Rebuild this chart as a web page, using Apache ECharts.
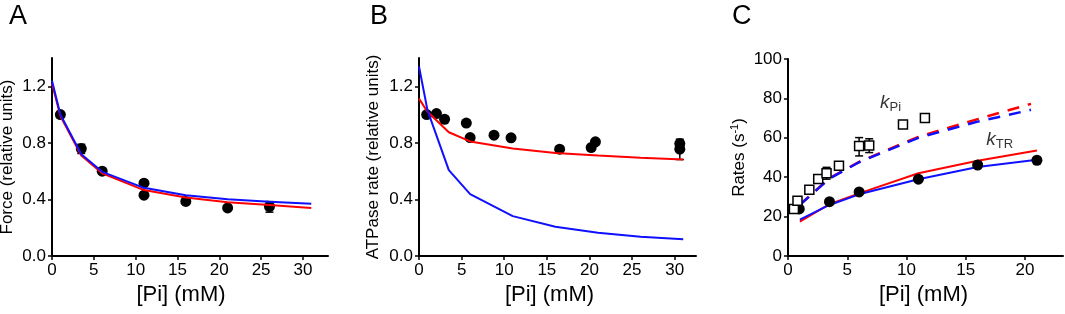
<!DOCTYPE html>
<html>
<head>
<meta charset="utf-8">
<script src="https://cdn.jsdelivr.net/npm/echarts@6/dist/echarts.min.js"></script>
<style>
  html, body { margin: 0; padding: 0; background: #fff; }
  #main { width: 1065px; height: 314px; }
</style>
</head>
<body>
<div id="main"></div>
<script>
// ---- data ----
// A: force
var forcePi = [1, 3.5, 6, 11, 11, 16, 21, 26];
var forceVal = [1.0, 0.76, 0.60, 0.515, 0.43, 0.386, 0.34, 0.35];
var forceErr = [[3.5, 0.725, 0.79], [26, 0.31, 0.385]];
var modelPi = [0, 1, 3.5, 6, 11, 16, 21, 26, 31];
var forceRed = [1.22, 0.99, 0.71, 0.585, 0.466, 0.414, 0.38, 0.36, 0.34];
var forceBlue = [1.24, 1.0, 0.72, 0.595, 0.482, 0.43, 0.402, 0.383, 0.369];

// B: ATPase
var atpPi = [0.9, 2.05, 3.0, 5.55, 6.0, 8.8, 10.8, 16.5, 20.2, 20.7, 30.6, 30.6];
var atpVal = [1.0, 1.007, 0.967, 0.94, 0.837, 0.854, 0.836, 0.755, 0.767, 0.807, 0.795, 0.755];
var atpErr = [[30.6, 0.682, 0.826]];
var atpRed = [1.113, 1.02, 0.875, 0.81, 0.76, 0.728, 0.71, 0.695, 0.682];
var atpBlue = [1.34, 1.03, 0.607, 0.437, 0.282, 0.207, 0.165, 0.136, 0.118];

// C: rates
var ktrPi = [0.95, 3.5, 6, 11, 16, 21];
var ktrVal = [23.9, 27.6, 32.5, 39.0, 46.2, 48.6];
var kpiPi = [0.5, 0.8, 1.8, 2.55, 3.25, 4.3, 6.0, 6.85, 9.7, 11.55];
var kpiVal = [23.9, 28.0, 33.6, 39.1, 42.0, 45.8, 55.9, 56.1, 66.8, 70.0];
var kpiErr = [[3.25, 39.0, 45.0], [6.0, 50.8, 60.1], [6.85, 52.5, 59.5]];
var ktrModelPi = [1, 3.5, 6, 11, 16, 21];
var ktrRed = [17.5, 26.3, 31.8, 42, 48.3, 53.5];
var ktrBlue = [18.5, 25.9, 31.3, 39, 45.2, 48.8];
var kpiModelPi = [1, 3.5, 6, 11, 16, 20.5];
var kpiRed = [26, 39.5, 47.8, 60.5, 69.5, 77.2];
var kpiBlue = [26, 39.3, 47.6, 60, 68.2, 74.2];

// tick labels
var xTicksAB = [0, 5, 10, 15, 20, 25, 30];
var yTicksAB = [0, 0.4, 0.8, 1.2];
var xTicksC = [0, 5, 10, 15, 20];
var yTicksC = [0, 20, 40, 60, 80, 100];

var FONT = '"Liberation Sans", Arial, sans-serif';
var RED = '#ff0000', BLUE = '#1010ff';

function zip(xs, ys) {
  return xs.map(function (x, i) { return [x, ys[i]]; });
}

function xAxis(idx, max, ticks, shift) {
  return {
    type: 'value', gridIndex: idx, min: 0, max: max,
    name: '[Pi] (mM)', nameLocation: 'middle', nameGap: 28,
    nameTextStyle: { fontSize: 22, color: '#000', fontFamily: FONT, padding: [0, shift * 2, 0, 0] },
    axisLine: { show: true, onZero: false, lineStyle: { color: '#000', width: 2 } },
    axisTick: { show: true, length: 4, customValues: ticks, lineStyle: { color: '#000', width: 1.5 } },
    axisLabel: { customValues: ticks, fontSize: 17, color: '#000', fontFamily: FONT, margin: 6 },
    splitLine: { show: false }
  };
}

function yAxis(idx, max, ticks, name, gap, fmt) {
  return {
    type: 'value', gridIndex: idx, min: 0, max: max,
    name: name, nameLocation: 'middle', nameGap: gap,
    nameTextStyle: {
      fontSize: 17, color: '#000', fontFamily: FONT, lineHeight: 20,
      rich: { sup: { fontSize: 11, fontFamily: FONT, color: '#000', verticalAlign: 'top', lineHeight: 11 } }
    },
    axisLine: { show: true, onZero: false, lineStyle: { color: '#000', width: 2 } },
    axisTick: { show: true, length: 4, customValues: ticks, lineStyle: { color: '#000', width: 1.5 } },
    axisLabel: { customValues: ticks, fontSize: 17, color: '#000', fontFamily: FONT, margin: 6, formatter: fmt },
    splitLine: { show: false }
  };
}

function dots(idx, data) {
  return {
    type: 'scatter', xAxisIndex: idx, yAxisIndex: idx, data: data,
    symbol: 'circle', symbolSize: 11, itemStyle: { color: '#000', opacity: 1 }, z: 3
  };
}

function squares(idx, data) {
  return {
    type: 'scatter', xAxisIndex: idx, yAxisIndex: idx, data: data,
    symbol: 'rect', symbolSize: 9, z: 4,
    itemStyle: { color: '#fff', borderColor: '#000', borderWidth: 1.5, opacity: 1 }
  };
}

function curve(idx, data, color, dashed, z) {
  return {
    type: 'line', xAxisIndex: idx, yAxisIndex: idx, data: data, symbol: 'none',
    lineStyle: { color: color, width: dashed ? 2.5 : 2, type: dashed ? [12, 9] : 'solid' },
    z: z
  };
}

function errBars(idx, data) {
  return {
    type: 'custom', xAxisIndex: idx, yAxisIndex: idx, data: data, z: 3,
    encode: { x: 0, y: [1, 2] },
    renderItem: function (params, api) {
      var x = api.value(0);
      var lo = api.coord([x, api.value(1)]);
      var hi = api.coord([x, api.value(2)]);
      var w = 4;
      var st = { stroke: '#000', lineWidth: 1.5 };
      return {
        type: 'group',
        children: [
          { type: 'line', shape: { x1: lo[0], y1: lo[1], x2: hi[0], y2: hi[1] }, style: st },
          { type: 'line', shape: { x1: lo[0] - w, y1: lo[1], x2: lo[0] + w, y2: lo[1] }, style: st },
          { type: 'line', shape: { x1: hi[0] - w, y1: hi[1], x2: hi[0] + w, y2: hi[1] }, style: st }
        ]
      };
    }
  };
}

function note(idx, pos, main, sub) {
  return {
    type: 'scatter', xAxisIndex: idx, yAxisIndex: idx, data: [pos],
    symbolSize: 0, silent: true, z: 5,
    label: {
      show: true, position: [0, 0], align: 'left', verticalAlign: 'bottom',
      formatter: '{k|' + main + '}{s|' + sub + '}',
      rich: {
        k: { fontSize: 19, fontStyle: 'italic', fontFamily: FONT, color: '#000', lineHeight: 22 },
        s: { fontSize: 13, fontFamily: FONT, color: '#000', lineHeight: 13, verticalAlign: 'bottom' }
      }
    }
  };
}

var fmt1 = function (v) { return v.toFixed(1); };

var myChart = echarts.init(document.getElementById('main'));
var option = {
  animation: false,
  backgroundColor: '#fff',
  grid: [
    { left: 52, top: 58, width: 276, height: 198, outerBoundsMode: 'none' },
    { left: 419, top: 58, width: 277, height: 198, outerBoundsMode: 'none' },
    { left: 788, top: 59, width: 275, height: 197, outerBoundsMode: 'none' }
  ],
  xAxis: [
    xAxis(0, 33, xTicksAB, 9),
    xAxis(1, 32.5, xTicksAB, 8),
    xAxis(2, 23.2, xTicksC, 2)
  ],
  yAxis: [
    yAxis(0, 1.4, yTicksAB, 'Force (relative units)', 35, fmt1),
    yAxis(1, 1.4, yTicksAB, 'ATPase rate (relative units)', 36, fmt1),
    yAxis(2, 100, yTicksC, 'Rates (s{sup|-1})', 39, null)
  ],
  graphic: [
    { type: 'text', left: 9, top: 3, style: { text: 'A', fontSize: 27, fontFamily: FONT, fill: '#000' } },
    { type: 'text', left: 370, top: 3, style: { text: 'B', fontSize: 27, fontFamily: FONT, fill: '#000' } },
    { type: 'text', left: 732, top: 3, style: { text: 'C', fontSize: 27, fontFamily: FONT, fill: '#000' } }
  ],
  series: [
    // A
    errBars(0, forceErr),
    dots(0, zip(forcePi, forceVal)),
    curve(0, zip(modelPi, forceRed), RED, false, 4),
    curve(0, zip(modelPi, forceBlue), BLUE, false, 5),
    // B
    errBars(1, atpErr),
    dots(1, zip(atpPi, atpVal)),
    curve(1, zip(modelPi, atpRed), RED, false, 4),
    curve(1, zip(modelPi, atpBlue), BLUE, false, 5),
    // C
    curve(2, zip(kpiModelPi, kpiRed), RED, true, 2),
    curve(2, zip(kpiModelPi, kpiBlue), BLUE, true, 2),
    curve(2, zip(ktrModelPi, ktrRed), RED, false, 2),
    curve(2, zip(ktrModelPi, ktrBlue), BLUE, false, 2),
    errBars(2, kpiErr),
    squares(2, zip(kpiPi, kpiVal)),
    dots(2, zip(ktrPi, ktrVal)),
    note(2, [7.76, 72.2], 'k', 'Pi'),
    note(2, [16.72, 53.4], 'k', 'TR')
  ]
};
myChart.setOption(option);
</script>
</body>
</html>
